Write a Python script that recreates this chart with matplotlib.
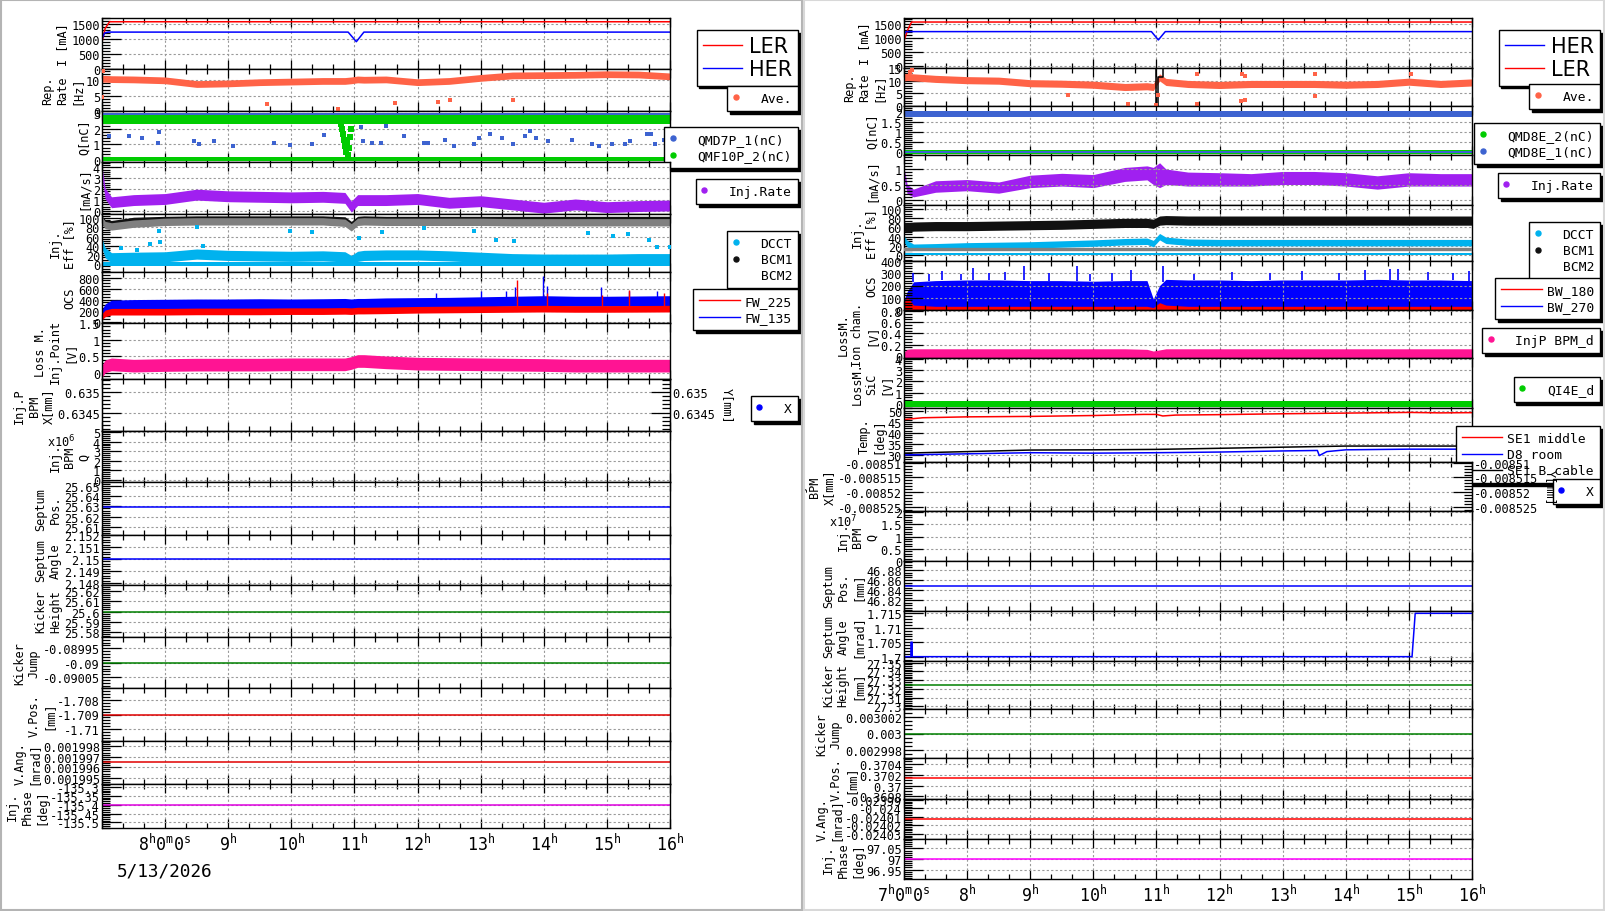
import matplotlib
matplotlib.use("Agg")
import matplotlib.pyplot as plt
import numpy as np
from matplotlib.lines import Line2D
from matplotlib.patches import Rectangle
from matplotlib.ticker import MultipleLocator, AutoMinorLocator, FormatStrFormatter
from matplotlib.transforms import Bbox, TransformedBbox

plt.rcParams['font.family'] = ['DejaVu Sans Mono', 'DejaVu Sans']
plt.rcParams['mathtext.fontset'] = 'dejavusans'

W, H = 1606, 912

# ---------------- data (time in hours of the day) ----------------
T = [7.0, 7.05, 7.15, 7.5, 8.0, 8.5, 9.0, 9.5, 10.0, 10.5, 10.85, 10.95,
     11.05, 11.15, 11.5, 12.0, 12.5, 13.0, 13.5, 14.0, 14.5, 15.0, 15.5, 16.0]
T_ends = [7.0, 16.0]

# left column
L_ler_t = [7.0, 7.05, 7.12, 16.0]
L_ler = [900, 1350, 1575, 1575]
L_her_t = [7.0, 7.04, 7.1, 10.9, 11.03, 11.15, 16.0]
L_her = [1000, 1200, 1230, 1230, 910, 1230, 1230]

L_rep = [10.5, 10.5, 10.4, 10.3, 10.0, 8.8, 9.0, 9.4, 9.6, 9.8, 9.8, 10.0,
         10.3, 10.2, 10.3, 9.4, 9.8, 10.8, 11.6, 11.7, 11.8, 12.0, 11.9, 11.3]
L_rep_out_t = [7.0, 7.02, 9.62, 10.74, 11.65, 12.33, 12.52, 13.52]
L_rep_out = [4.7, 13.2, 2.3, 0.6, 2.6, 3.0, 3.7, 3.7]

L_q1_top = [2.92, 2.92]
L_q1_bot = [0.04, 0.04]
L_q1_pts_t = [7.11, 7.43, 7.63, 7.9, 7.89, 8.45, 8.53, 8.78, 9.08, 9.72, 9.98, 10.33,
              10.51, 11.1, 11.13, 11.28, 11.42, 11.5, 11.79, 12.1, 12.17, 12.44, 12.57,
              12.9, 12.97, 13.14, 13.34, 13.52, 13.7, 13.78, 13.87, 14.07, 14.44, 14.77,
              14.88, 15.08, 15.28, 15.37, 15.63, 15.7, 15.76, 15.9]
L_q1_pts = [1.53, 1.53, 1.4, 1.8, 1.1, 1.2, 1.05, 1.25, 0.9, 1.1, 0.95, 1.0,
            1.6, 2.1, 1.2, 1.1, 1.1, 2.2, 1.53, 1.08, 1.1, 1.3, 0.9,
            1.0, 1.4, 1.65, 1.4, 1.05, 1.55, 1.87, 1.4, 1.2, 1.3, 1.05,
            0.9, 1.0, 1.0, 1.2, 1.7, 1.7, 1.0, 1.3]
L_q2_top = [2.6, 2.6]
L_q2_bot = [0.06, 0.06]
L_q2_dip_t = [10.78, 10.8, 10.82, 10.84, 10.85, 10.86, 10.88, 10.9, 10.92, 10.93, 10.94]
L_q2_dip = [2.3, 2.0, 1.7, 1.3, 0.9, 0.5, 1.1, 0.3, 0.8, 1.5, 2.0]

L_rate = [3.6, 1.6, 0.8, 1.0, 1.1, 1.5, 1.35, 1.3, 1.25, 1.3, 1.2, 0.4,
          1.0, 1.0, 1.0, 1.1, 0.75, 0.9, 0.6, 0.3, 0.6, 0.35, 0.45, 0.5]

L_bcm1 = [99, 92, 90, 97, 99, 100, 100, 100, 100, 100, 98, 88,
          99, 100, 99, 99, 99, 99, 99, 99, 99, 99, 99, 99]
L_bcm2 = [95, 85, 82, 88, 92, 93, 93, 93, 93, 93, 90, 80,
          92, 93, 92, 92, 92, 92, 91, 91, 91, 91, 91, 91]
L_dcct = [45, 25, 14, 15, 16, 22, 19, 18, 17, 18, 16, 8,
          17, 19, 20, 20, 18, 15, 12, 11, 11, 11, 12, 12]
L_dcct_zero = [0.5, 0.5]
L_dcct_out_t = [7.3, 7.55, 7.76, 7.9, 7.92, 8.5, 8.6, 9.98, 10.33, 11.07, 11.44,
                12.1, 12.9, 13.24, 13.53, 14.7, 15.1, 15.33, 15.67, 15.8, 16.0]
L_dcct_out = [35, 30, 44, 73, 48, 80, 40, 73, 70, 57, 70,
              78, 72, 52, 50, 68, 62, 65, 52, 37, 37]

L_fw135 = [130, 230, 300, 310, 315, 320, 320, 325, 320, 325, 330, 320,
           330, 330, 340, 345, 350, 360, 370, 380, 370, 370, 375, 380]
L_fw225 = [90, 150, 180, 180, 180, 185, 185, 185, 190, 190, 195, 190,
           200, 200, 205, 215, 220, 225, 230, 235, 230, 230, 232, 235]
L_fw135_spk_t = [12.3, 13.0, 13.4, 13.55, 13.98, 14.05, 14.9, 15.35, 15.8]
L_fw135_spk = [520, 550, 560, 620, 820, 640, 620, 560, 560]
L_fw225_spk_t = [13.58, 14.05, 14.92, 15.35, 15.9]
L_fw225_spk = [760, 520, 480, 580, 520]

L_loss = [0.05, 0.2, 0.26, 0.22, 0.24, 0.25, 0.25, 0.25, 0.26, 0.26, 0.26, 0.3,
          0.36, 0.36, 0.32, 0.28, 0.27, 0.26, 0.25, 0.24, 0.22, 0.22, 0.22, 0.22]

L_sep_pos = [25.629, 25.629]
L_sep_ang = [2.15, 2.15]
L_kick_h = [25.6, 25.6]
L_kick_j = [-0.09, -0.09]
L_vpos = [-1.709, -1.709]
L_vang = [0.0019965, 0.0019965]
L_phase = [-135.4, -135.4]

# right column
R_ler_t = [7.0, 7.06, 7.12, 16.0]
R_ler = [900, 1300, 1575, 1575]
R_her_t = [7.0, 7.03, 7.1, 10.92, 11.03, 11.14, 16.0]
R_her = [1140, 1230, 1230, 1230, 930, 1230, 1230]

R_rep = [11.3, 11.5, 11.3, 10.7, 10.2, 10.0, 9.0, 8.8, 8.4, 7.5, 7.8, 7.5,
         11.3, 9.5, 8.7, 8.3, 8.7, 8.7, 8.7, 8.4, 8.7, 9.6, 8.7, 9.3]
R_rep_set_t = [7.0, 11.0, 11.0, 11.02, 11.02, 11.1, 11.1, 16.0]
R_rep_set = [15, 15, 0, 0, 11.3, 11.3, 15, 15]
R_rep_out_t = [7.1, 7.13, 9.6, 10.55, 11.0, 11.03, 11.65, 12.34, 12.4, 13.52,
               11.65, 12.35, 12.4, 13.52, 15.03]
R_rep_out = [13.5, 14.3, 4.3, 0.8, 0.3, 4.5, 0.7, 2.0, 2.4, 4.0,
             12.7, 12.5, 12.0, 12.5, 12.5]

R_q1_top = [1.9, 1.9]
R_q1_bot = [0.02, 0.02]
R_q2_bot = [0.02, 0.02]

R_rate = [0.85, 0.3, 0.15, 0.42, 0.46, 0.38, 0.6, 0.66, 0.62, 0.85, 0.9, 0.85,
          1.0, 0.8, 0.7, 0.68, 0.65, 0.72, 0.72, 0.68, 0.58, 0.68, 0.65, 0.65]
R_rate_low = [0.7, 0.2, 0.1, 0.25, 0.3, 0.22, 0.4, 0.45, 0.4, 0.6, 0.65, 0.5,
              0.4, 0.5, 0.45, 0.45, 0.45, 0.5, 0.5, 0.45, 0.35, 0.45, 0.45, 0.45]

R_bcm1 = [62, 60, 62, 63, 63, 64, 65, 66, 68, 70, 70, 68,
          75, 76, 75, 75, 75, 75, 75, 75, 75, 75, 75, 75]
R_dcct = [35, 25, 17, 18, 20, 21, 22, 24, 26, 29, 30, 25,
          40, 32, 28, 27, 27, 27, 27, 27, 27, 27, 27, 27]
R_dcct_zero = [2, 2]
R_bcm2 = [14, 14]

R_bw270_top = [80, 150, 230, 240, 245, 245, 240, 240, 235, 240, 240, 90,
               200, 250, 245, 245, 240, 245, 245, 245, 250, 245, 245, 240]
R_bw270_low = [20, 20]
R_bw270_spk_t = [7.15, 7.4, 7.6, 7.9, 8.1, 8.35, 8.6, 8.9, 9.3, 9.74, 9.95, 10.3,
                 10.6, 11.1, 11.6, 12.2, 12.8, 13.3, 13.9, 14.3, 14.7, 14.82, 15.3, 15.7, 15.95]
R_bw270_spk = [300, 290, 320, 290, 340, 300, 310, 360, 300, 360, 290, 300,
               330, 360, 293, 310, 300, 320, 300, 330, 335, 333, 310, 300, 320]
R_bw180_top = [60, 110, 40, 30, 30, 30, 30, 30, 30, 30, 30, 20,
               60, 40, 30, 30, 30, 30, 30, 30, 30, 30, 30, 30]

R_ion = [-0.02, 0.03, 0.04, 0.04, 0.04, 0.04, 0.04, 0.04, 0.04, 0.04, 0.03, 0.0,
         0.02, 0.04, 0.04, 0.04, 0.04, 0.04, 0.04, 0.04, 0.04, 0.04, 0.04, 0.04]
R_sic = [0.0, 0.0]

R_se1_t = [7.0, 7.3, 8.0, 9.0, 10.0, 10.8, 11.0, 11.1, 11.3, 12.0, 13.0, 14.0, 15.0, 15.5, 16.0]
R_se1 = [46.0, 46.8, 47.2, 47.4, 47.8, 48.3, 48.3, 47.6, 48.0, 48.2, 48.6, 48.9, 49.2, 49.0, 49.1]
R_d8_t = [7.0, 8.0, 9.0, 10.0, 11.0, 12.0, 13.0, 13.55, 13.58, 13.7, 14.0, 15.0, 16.0]
R_d8 = [30.0, 30.5, 31.0, 30.8, 31.0, 31.3, 31.8, 32.0, 29.7, 31.5, 32.3, 32.6, 32.6]
R_cable_t = [7.0, 8.0, 9.0, 10.0, 11.0, 12.0, 13.0, 14.0, 15.0, 16.0]
R_cable = [30.8, 31.5, 32.2, 32.3, 32.5, 33.0, 33.5, 34.0, 34.0, 34.0]

R_sep_pos = [46.849, 46.849]
R_sep_ang_t = [7.0, 7.11, 7.11, 7.13, 7.13, 15.05, 15.1, 16.0]
R_sep_ang = [1.7, 1.7, 1.705, 1.705, 1.7, 1.7, 1.715, 1.715]
R_kick_h = [27.324, 27.324]
R_kick_j = [0.003, 0.003]
R_vpos = [0.37014, 0.37014]
R_vang = [-0.024012, -0.024012]
R_phase = [97.0, 97.0]

# tick labels of the time axis
L_hours = [7, 8, 9, 10, 11, 12, 13, 14, 15, 16]
L_hour_labels = ['', r'$\mathregular{8^h0^m0^s}$', r'$\mathregular{9^h}$', r'$\mathregular{10^h}$',
                 r'$\mathregular{11^h}$', r'$\mathregular{12^h}$', r'$\mathregular{13^h}$',
                 r'$\mathregular{14^h}$', r'$\mathregular{15^h}$', r'$\mathregular{16^h}$']
R_hour_labels = [r'$\mathregular{7^h0^m0^s}$', r'$\mathregular{8^h}$', r'$\mathregular{9^h}$',
                 r'$\mathregular{10^h}$', r'$\mathregular{11^h}$', r'$\mathregular{12^h}$',
                 r'$\mathregular{13^h}$', r'$\mathregular{14^h}$', r'$\mathregular{15^h}$',
                 r'$\mathregular{16^h}$']
date_label = '5/13/2026'

# ---------------- layout ----------------
L_edges = [19, 70, 112, 163, 215, 273, 324, 380, 432, 483, 536, 586, 638, 689, 742, 785, 829]
R_edges = [19, 69, 107, 156, 206, 262, 311, 359, 409, 463, 512, 562, 612, 662, 710, 759, 800, 840, 880]
L_x0, L_x1 = 102, 670
R_x0, R_x1 = 904, 1472

TICK_FS = 8.6
GRID_KW = dict(color='#9a9a9a', ls=(0, (2, 2)), lw=0.8)

fig = plt.figure(figsize=(W / 100, H / 100), dpi=100)
fig.patch.set_facecolor('white')

clip_right = TransformedBbox(Bbox([[805 / W, 0], [1, 1]]), fig.transFigure)


def make_axes(x0, x1, edges):
    axs = []
    for i in range(len(edges) - 1):
        y0, y1 = edges[i], edges[i + 1]
        ax = fig.add_axes([x0 / W, 1 - y1 / H, (x1 - x0) / W, (y1 - y0) / H])
        axs.append(ax)
    return axs


def style(ax, ylim, yticks, ylabel, clip=None):
    ax.set_xlim(7, 16)
    ax.set_ylim(*ylim)
    ax.set_yticks(yticks)
    ax.yaxis.set_major_formatter(FormatStrFormatter('%g'))
    ax.yaxis.set_minor_locator(AutoMinorLocator())
    ax.xaxis.set_major_locator(MultipleLocator(1))
    ax.xaxis.set_minor_locator(MultipleLocator(1 / 3))
    ax.tick_params(which='both', direction='in', top=True, right=False,
                   labelsize=TICK_FS, width=0.9, pad=1.5, labelbottom=False)
    ax.tick_params(axis='y', which='major', length=13.5)
    ax.tick_params(axis='y', which='minor', length=5.5)
    ax.tick_params(axis='x', which='major', length=6.2)
    ax.tick_params(axis='x', which='minor', length=3.4)
    ax.grid(which='major', **GRID_KW)
    for s in ax.spines.values():
        s.set_linewidth(1.0)
    lab = ax.set_ylabel(ylabel, fontsize=TICK_FS, labelpad=1.5, linespacing=1.15)
    if clip is not None:
        lab.set_clip_box(clip)
        lab.set_clip_on(True)


def band(ax, t, c, hw, color, z=2):
    c = np.asarray(c, dtype=float)
    if len(c) == 2:
        t = T_ends
    ax.fill_between(t, c - hw, c + hw, color=color, lw=0, zorder=z)


def dots(ax, t, v, color, s=7):
    ax.scatter(t, v, s=s, marker='s', color=color, lw=0, zorder=3)


def twin_right(ax, ticks):
    tw = ax.twinx()
    tw.set_ylim(ax.get_ylim())
    tw.set_yticks(ticks)
    tw.yaxis.set_major_formatter(FormatStrFormatter('%g'))
    tw.yaxis.set_minor_locator(AutoMinorLocator())
    tw.tick_params(axis='y', which='both', direction='in', labelsize=TICK_FS, pad=1.5, width=0.9)
    tw.tick_params(axis='y', which='major', length=13.5)
    tw.tick_params(axis='y', which='minor', length=5.5)
    tw.set_ylabel('Y[mm]', fontsize=TICK_FS, rotation=270, va='bottom', labelpad=4)
    return tw


def leg(ax, items, right, top, fs=9.4, line=False, **kw):
    hs, ls = [], []
    for lab, col in items:
        if line:
            hs.append(Line2D([], [], color=col, lw=1.0))
        else:
            hs.append(Line2D([], [], color=col, marker='o', ms=3.6, ls=''))
        ls.append(lab)
    opts = dict(loc='upper right', bbox_to_anchor=(right / W, 1 - top / H),
                bbox_transform=fig.transFigure, borderaxespad=0, fontsize=fs,
                fancybox=False, edgecolor='black', framealpha=1,
                shadow={'color': 'black', 'alpha': 1}, borderpad=0.45,
                labelspacing=0.25)
    if line:
        opts.update(handlelength=3.1, handletextpad=0.4)
    else:
        opts.update(handlelength=0.4, handletextpad=1.7)
    opts.update(kw)
    lg = ax.legend(hs, ls, **opts)
    lg.get_frame().set_linewidth(1.0)
    return lg


C_ORANGE = '#ff6347'
C_GREEN = '#00cc00'
C_QBLUE = '#3d63d0'
C_PURPLE = '#a020f0'
C_CYAN = '#00b2ee'
C_PINK = '#ff1493'

# ================= LEFT COLUMN =================
la = make_axes(L_x0, L_x1, L_edges)

ax = la[0]
style(ax, (0, 1700), [0, 500, 1000, 1500], 'I [mA]')
ax.plot(L_ler_t, L_ler, color='red', lw=1.1)
ax.plot(L_her_t, L_her, color='blue', lw=1.1)
leg(ax, [('LER', 'red'), ('HER', 'blue')], 798, 31, fs=15, line=True,
    prop={'family': 'DejaVu Sans', 'size': 15}, handlelength=1.9, handletextpad=0.3,
    labelspacing=0.15, borderpad=0.3)

ax = la[1]
style(ax, (0, 13.7), [0, 5, 10], 'Rep.\nRate\n[Hz]')
band(ax, T, L_rep, 1.1, C_ORANGE)
dots(ax, L_rep_out_t, L_rep_out, C_ORANGE)
leg(ax, [('Ave.', C_ORANGE)], 798, 87)

ax = la[2]
style(ax, (-0.13, 3.15), [0, 1, 2, 3], 'Q[nC]')
band(ax, T_ends, L_q1_top, 0.08, C_QBLUE)
band(ax, T_ends, L_q1_bot, 0.06, C_QBLUE)
dots(ax, L_q1_pts_t, L_q1_pts, C_QBLUE)
band(ax, T_ends, L_q2_top, 0.3, C_GREEN)
band(ax, T_ends, L_q2_bot, 0.1, C_GREEN)
dots(ax, L_q2_dip_t, L_q2_dip, C_GREEN, s=16)
leg(ax, [('QMD7P_1(nC)', C_QBLUE), ('QMF10P_2(nC)', C_GREEN)], 798, 128)

ax = la[3]
style(ax, (-0.28, 4.5), [0, 1, 2, 3, 4], '[mA/s]')
band(ax, T, L_rate, 0.5, C_PURPLE)
leg(ax, [('Inj.Rate', C_PURPLE)], 798, 180)

ax = la[4]
style(ax, (-17, 109), [0, 20, 40, 60, 80, 100], 'Inj.\nEff [%]')
band(ax, T_ends, L_dcct_zero, 3.5, C_CYAN)
band(ax, T, L_dcct, 11, C_CYAN)
dots(ax, L_dcct_out_t, L_dcct_out, C_CYAN)
band(ax, T, L_bcm1, 5, '#111111')
band(ax, T, L_bcm2, 8, '#808080')
leg(ax, [('DCCT', C_CYAN), ('BCM1', '#111111'), ('BCM2', 'white')], 798, 232)

ax = la[5]
style(ax, (-25, 900), [0, 200, 400, 600, 800], 'OCS')
band(ax, T, L_fw135, 90, 'blue')
ax.vlines(L_fw135_spk_t, np.interp(L_fw135_spk_t, T, L_fw135), L_fw135_spk, color='blue', lw=1.0)
band(ax, T, L_fw225, 60, 'red')
ax.vlines(L_fw225_spk_t, np.interp(L_fw225_spk_t, T, L_fw225), L_fw225_spk, color='red', lw=1.0)
leg(ax, [('FW_225', 'red'), ('FW_135', 'blue')], 798, 290, line=True)

ax = la[6]
style(ax, (-0.18, 1.5), [0, 0.5, 1, 1.5], 'Loss M.\nInj.Point\n[V]')
band(ax, T, L_loss, 0.19, C_PINK)

ax = la[7]
style(ax, (0.63405, 0.63532), [0.6345, 0.635], 'Inj.P\nBPM\nX[mm]')
leg(ax, [('X', 'blue')], 798, 397)
twin_right(ax, [0.6345, 0.635])

ax = la[8]
style(ax, (-0.2, 5.1), [0, 1, 2, 3, 4, 5], 'Inj.\nBPM\nQ')
fig.text(47 / W, 1 - 447 / H, r'x10$^{6}$', fontsize=TICK_FS)

ax = la[9]
style(ax, (25.602, 25.654), [25.61, 25.62, 25.63, 25.64, 25.65], 'Septum\nPos.')
ax.plot(T_ends, L_sep_pos, color='blue', lw=1.1)

ax = la[10]
style(ax, (2.14783, 2.152), [2.148, 2.149, 2.15, 2.151, 2.152], 'Septum\nAngle')
ax.plot(T_ends, L_sep_ang, color='blue', lw=1.1)

ax = la[11]
style(ax, (25.575, 25.626), [25.58, 25.59, 25.6, 25.61, 25.62], 'Kicker\nHeight')
ax.plot(T_ends, L_kick_h, color='green', lw=1.1)

ax = la[12]
style(ax, (-0.090087, -0.089911), [-0.09005, -0.09, -0.08995], 'Kicker\nJump')
ax.plot(T_ends, L_kick_j, color='green', lw=1.1)

ax = la[13]
style(ax, (-1.7108, -1.7072), [-1.71, -1.709, -1.708], 'V.Pos.\n[mm]')
ax.plot(T_ends, L_vpos, color='#e00000', lw=1.1)

ax = la[14]
style(ax, (0.0019944, 0.0019985), [0.001995, 0.001996, 0.001997, 0.001998], 'V.Ang.\n[mrad]')
ax.plot(T_ends, L_vang, color='#e00000', lw=1.1)

ax = la[15]
style(ax, (-135.532, -135.283), [-135.5, -135.45, -135.4, -135.35, -135.3], 'Inj.\nPhase\n[deg]')
ax.plot(T_ends, L_phase, color='#e000e0', lw=1.1)
ax.set_xticks(L_hours, L_hour_labels)
ax.tick_params(axis='x', labelbottom=True, labelsize=12, pad=3)
fig.text(117 / W, 1 - 872 / H, date_label, fontsize=12.8, va='center')

# ================= RIGHT COLUMN =================
ra = make_axes(R_x0, R_x1, R_edges)

ax = ra[0]
style(ax, (-80, 1720), [0, 500, 1000, 1500], 'I [mA]', clip_right)
ax.plot(R_ler_t, R_ler, color='red', lw=1.1)
ax.plot(R_her_t, R_her, color='blue', lw=1.1)
leg(ax, [('HER', 'blue'), ('LER', 'red')], 1600, 31, fs=15, line=True,
    prop={'family': 'DejaVu Sans', 'size': 15}, handlelength=1.9, handletextpad=0.3,
    labelspacing=0.15, borderpad=0.3)

ax = ra[1]
style(ax, (0, 15), [0, 5, 10, 15], 'Rep.\nRate\n[Hz]', clip_right)
band(ax, T, R_rep, 1.4, C_ORANGE)
dots(ax, R_rep_out_t, R_rep_out, C_ORANGE)
ax.plot(R_rep_set_t, R_rep_set, color='black', lw=1.1)
leg(ax, [('Ave.', C_ORANGE)], 1600, 85)

ax = ra[2]
style(ax, (-0.13, 2.3), [0, 0.5, 1, 1.5, 2], 'Q[nC]', clip_right)
band(ax, T_ends, R_q2_bot, 0.09, C_GREEN)
band(ax, T_ends, R_q1_bot, 0.06, C_QBLUE)
band(ax, T_ends, R_q1_top, 0.16, C_QBLUE)
leg(ax, [('QMD8E_2(nC)', C_GREEN), ('QMD8E_1(nC)', C_QBLUE)], 1600, 124)

ax = ra[3]
style(ax, (-0.16, 1.45), [0, 0.5, 1], '[mA/s]', clip_right)
ax.fill_between(T, R_rate_low, np.asarray(R_rate) + 0.2, color=C_PURPLE, lw=0)
leg(ax, [('Inj.Rate', C_PURPLE)], 1600, 174)

ax = ra[4]
style(ax, (-13, 109), [0, 20, 40, 60, 80, 100], 'Inj.\nEff [%]', clip_right)
band(ax, T, R_bcm1, 10, '#111111')
band(ax, T_ends, R_dcct_zero, 3, C_CYAN)
band(ax, T, R_dcct, 7, C_CYAN)
ax.plot(T_ends, R_bcm2, color='#808080', lw=2.4, zorder=3)
leg(ax, [('DCCT', C_CYAN), ('BCM1', '#111111'), ('BCM2', 'white')], 1600, 223)

ax = ra[5]
style(ax, (0, 400), [0, 100, 200, 300, 400], 'OCS', clip_right)
ax.fill_between(T, np.interp(T, T_ends, R_bw270_low), R_bw270_top, color='blue', lw=0)
ax.vlines(R_bw270_spk_t, np.interp(R_bw270_spk_t, T, R_bw270_top), R_bw270_spk, color='blue', lw=1.2)
ax.fill_between(T, 0, R_bw180_top, color='red', lw=0)
leg(ax, [('BW_180', 'red'), ('BW_270', 'blue')], 1600, 279, line=True)

ax = ra[6]
style(ax, (-0.04, 0.82), [0, 0.2, 0.4, 0.6, 0.8], 'LossM.\nIon cham.\n[V]', clip_right)
band(ax, T, R_ion, 0.085, C_PINK)
leg(ax, [('InjP BPM_d', C_PINK)], 1600, 329)

ax = ra[7]
style(ax, (-0.35, 4.07), [0, 1, 2, 3, 4], 'LossM.\nSiC\n[V]', clip_right)
band(ax, T_ends, R_sic, 0.3, C_GREEN)
leg(ax, [('QI4E_d', C_GREEN)], 1600, 378)

ax = ra[8]
style(ax, (26.8, 51.2), [30, 35, 40, 45, 50], 'Temp.\n[deg]', clip_right)
ax.plot(R_se1_t, R_se1, color='red', lw=1.1)
ax.plot(R_cable_t, R_cable, color='black', lw=1.1)
ax.plot(R_d8_t, R_d8, color='blue', lw=1.1)
leg(ax, [('SE1 middle', 'red'), ('D8 room', 'blue'), ('SE1 B cable', 'black')], 1600, 427,
    line=True)

ax = ra[9]
style(ax, (-0.0085265, -0.0085097), [-0.008525, -0.00852, -0.008515, -0.00851],
      'Inj.P\nBPM\nX[mm]', clip_right)
leg(ax, [('X', 'blue')], 1600, 480)
twin_right(ax, [-0.008525, -0.00852, -0.008515, -0.00851])

ax = ra[10]
style(ax, (0, 2.05), [0, 0.5, 1, 1.5, 2], 'Inj.\nBPM\nQ', clip_right)
fig.text(829 / W, 1 - 527 / H, r'x10$^{7}$', fontsize=TICK_FS)

ax = ra[11]
style(ax, (46.798, 46.898), [46.82, 46.84, 46.86, 46.88], 'Septum\nPos.\n[mm]', clip_right)
ax.plot(T_ends, R_sep_pos, color='blue', lw=1.1)

ax = ra[12]
style(ax, (1.6985, 1.7158), [1.7, 1.705, 1.71, 1.715], 'Septum\nAngle\n[mrad]', clip_right)
ax.plot(R_sep_ang_t, R_sep_ang, color='blue', lw=1.1)

ax = ra[13]
style(ax, (27.297, 27.352), [27.3, 27.31, 27.32, 27.33, 27.34, 27.35], 'Kicker\nHeight\n[mm]', clip_right)
ax.plot(T_ends, R_kick_h, color='green', lw=1.1)

ax = ra[14]
style(ax, (0.002997, 0.003003), [0.002998, 0.003, 0.003002], 'Kicker\nJump', clip_right)
ax.plot(T_ends, R_kick_j, color='green', lw=1.1)

ax = ra[15]
style(ax, (0.36975, 0.37051), [0.3698, 0.37, 0.3702, 0.3704], 'V.Pos.\n[mm]', clip_right)
ax.plot(T_ends, R_vpos, color='red', lw=1.1)

ax = ra[16]
style(ax, (-0.024036, -0.023989), [-0.02403, -0.02402, -0.02401, -0.024, -0.02399],
      'V.Ang.\n[mrad]', clip_right)
ax.plot(T_ends, R_vang, color='red', lw=1.1)

ax = ra[17]
style(ax, (96.905, 97.095), [96.95, 97, 97.05], 'Inj.\nPhase\n[deg]', clip_right)
ax.plot(T_ends, R_phase, color='#ff00ff', lw=1.1)
ax.set_xticks(L_hours, R_hour_labels)
ax.tick_params(axis='x', labelbottom=True, labelsize=12, pad=3)

# frames of the two halves
fig.add_artist(Rectangle((1 / W, 1 / H), 801 / W, 1 - 2 / H, transform=fig.transFigure,
                         fill=False, edgecolor='#b4b4b4', lw=1.5, zorder=10))
fig.add_artist(Rectangle((804 / W, 1 / H), 800 / W, 1 - 2 / H, transform=fig.transFigure,
                         fill=False, edgecolor='#d8d8d8', lw=1.5, zorder=10))

fig.savefig('out.png', dpi=100)
